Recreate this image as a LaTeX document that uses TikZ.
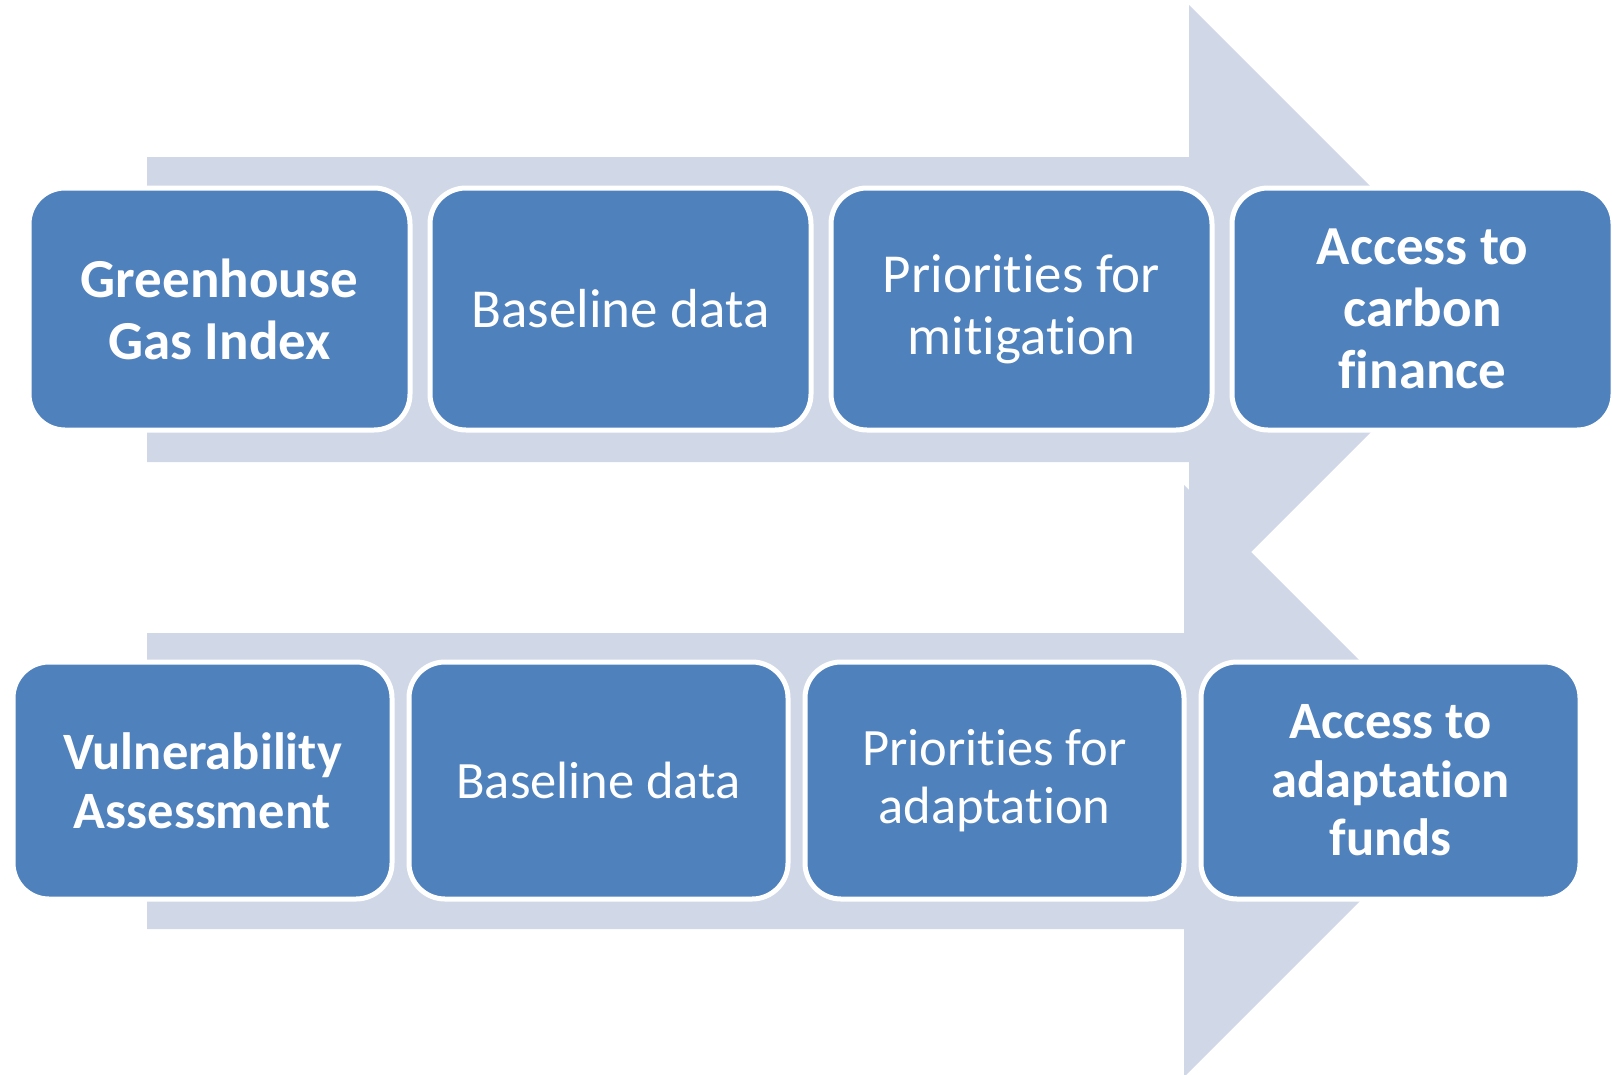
\documentclass[tikz,border=0pt]{standalone}
\usepackage{fontspec}
\setmainfont{Carlito}[Ligatures={NoCommon},RawFeature={-liga;-clig;-dlig}]
\definecolor{arrowfill}{RGB}{208,216,232}
\definecolor{boxfill}{RGB}{79,129,189}
\begin{document}
\begin{tikzpicture}[x=1pt,y=-1pt,
  bigarrow/.style={fill=arrowfill,draw=none},
  stepbox/.style={rectangle,rounded corners=36pt,fill=boxfill,draw=white,line width=5pt,
    text=white,align=center,inner sep=0pt,outer sep=0pt},
  toprow/.style={stepbox,minimum width=381pt,minimum height=242pt,font=\fontsize{55}{62}\selectfont},
  botrow/.style={stepbox,minimum width=379pt,minimum height=237pt,font=\fontsize{52.5}{58.6}\selectfont}]
\useasboundingbox (0,0) rectangle (1612,1074);
\clip (0,0) rectangle (1612,1074);
% big arrows
\path[bigarrow] (147,157) -- (1189,157) -- (1189,5) -- (1493.5,309.5) -- (1189,614) -- (1189,462) -- (147,462) -- cycle;
\path[bigarrow] (147,633) -- (1184,633) -- (1184,485) -- (1480,781) -- (1184,1077) -- (1184,929) -- (147,929) -- cycle;
% top row
\node[toprow] (t1) at (219.5,309) {\bfseries Greenhouse\\\bfseries Gas Index};
\node[toprow] (t2) at (620.5,309) {Baseline data};
\node[toprow] (t3) at (1021.5,309) {Priorities for\\mitigation};
\node[toprow] (t4) at (1422.5,309) {\bfseries Access to\\\bfseries carbon\\\bfseries finance};
% bottom row
\node[botrow] (b1) at (202.5,780.5) {\bfseries Vulnerability\\\bfseries Assessment};
\node[botrow] (b2) at (598.5,780.5) {Baseline data};
\node[botrow] (b3) at (994.5,780.5) {Priorities for\\adaptation};
\node[botrow] (b4) at (1390.5,780.5) {\bfseries Access to\\\bfseries adaptation\\\bfseries funds};
\end{tikzpicture}
\end{document}
